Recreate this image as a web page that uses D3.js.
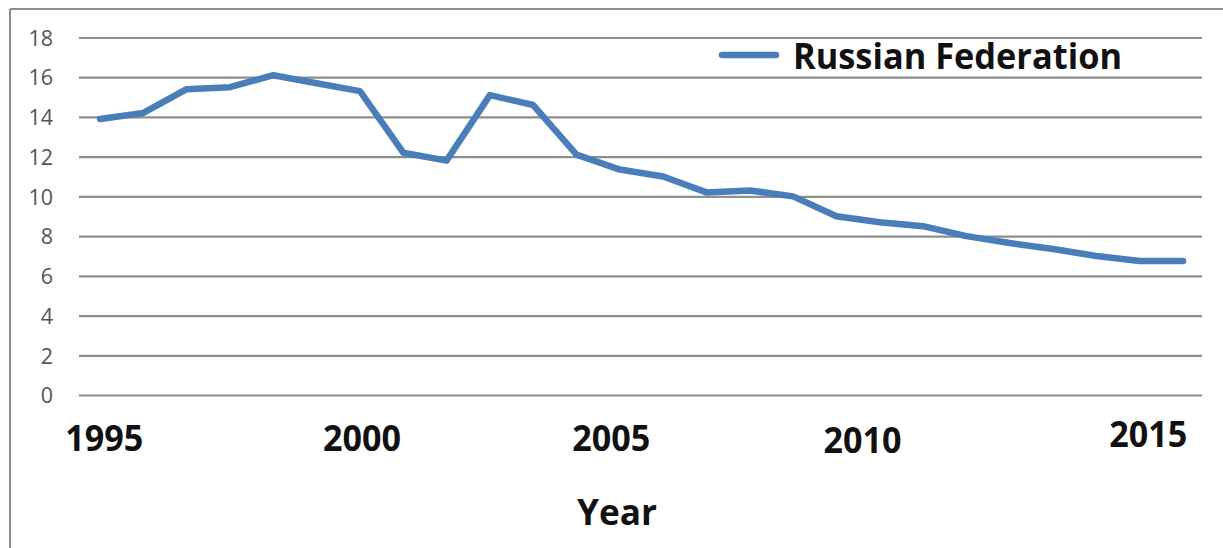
<!DOCTYPE html>
<html>
<head>
<meta charset="utf-8">
<script src="https://cdn.jsdelivr.net/npm/d3@7"></script>
<style>
  html, body { margin: 0; padding: 0; background: #ffffff; }
  svg { display: block; }
</style>
</head>
<body>
<svg id="chart" width="1223" height="548"></svg>
<script>
// ---- data ----
const seriesName = "Russian Federation";
const values = [13.9, 14.2, 15.4, 15.5, 16.1, 15.7, 15.3, 12.2, 11.8, 15.1,
                14.6, 12.1, 11.35, 11.0, 10.2, 10.3, 10.0, 9.0, 8.7, 8.5,
                8.0, 7.65, 7.35, 7.0, 6.75, 6.75];
const yTicks = [0, 2, 4, 6, 8, 10, 12, 14, 16, 18];
const xTickLabels = ["1995", "2000", "2005", "2010", "2015"];
// category position (index along the series) where each label is shown
const xTickAt = [0.1, 6.05, 11.8, 17.6, 24.2];
const xTickDy = [0, 0, 0, 2, -4];
const xAxisTitle = "Year";

// ---- layout ----
const svg = d3.select("#chart");
const W = 1223, H = 548;
const plot = { left: 79, right: 1202, top: 37.5, bottom: 395 };
const lineLeft = 100, lineRight = 1183;
const gridColor = "#8e8e8e";
const lineColor = "#4a7ebb";

const x = d3.scaleLinear().domain([0, values.length - 1]).range([lineLeft, lineRight]);
const y = d3.scaleLinear().domain([0, 18]).range([plot.bottom, plot.top]);

// frame
svg.append("line").attr("x1", 10).attr("x2", W).attr("y1", 9).attr("y2", 9)
  .attr("stroke", gridColor).attr("stroke-width", 2);
svg.append("line").attr("x1", 10).attr("x2", 10).attr("y1", 9).attr("y2", H)
  .attr("stroke", gridColor).attr("stroke-width", 2);

// y axis with gridlines
const yAxis = d3.axisLeft(y).tickValues(yTicks).tickSize(-(plot.right - plot.left)).tickPadding(26)
  .tickFormat(d3.format("d"));
const gy = svg.append("g").attr("transform", `translate(${plot.left},0)`).call(yAxis);
gy.select(".domain").remove();
gy.selectAll(".tick line").attr("stroke", gridColor).attr("stroke-width", 2.2);
gy.selectAll(".tick text")
  .attr("fill", "#555555")
  .style("font-family", "'Open Sans', sans-serif")
  .style("font-size", "21.5px")
  .attr("dy", "0.36em");

// x tick labels
const gx = svg.append("g");
gx.selectAll("text").data(xTickLabels).join("text")
  .attr("x", (d, i) => x(xTickAt[i]))
  .attr("y", (d, i) => 451 + xTickDy[i])
  .attr("text-anchor", "middle")
  .attr("fill", "#111111")
  .style("font-family", "'Open Sans', sans-serif")
  .style("font-weight", "bold")
  .style("font-size", "35px")
  .attr("textLength", 78)
  .attr("lengthAdjust", "spacingAndGlyphs")
  .text(d => d);

// x axis title
svg.append("text")
  .attr("x", 617).attr("y", 525)
  .attr("text-anchor", "middle")
  .attr("fill", "#111111")
  .style("font-family", "'Open Sans', sans-serif")
  .style("font-weight", "bold")
  .style("font-size", "36px")
  .attr("textLength", 80)
  .attr("lengthAdjust", "spacingAndGlyphs")
  .text(xAxisTitle);

// series line
const line = d3.line().x((d, i) => x(i)).y(d => y(d));
svg.append("path").datum(values)
  .attr("d", line)
  .attr("fill", "none")
  .attr("stroke", lineColor)
  .attr("stroke-width", 6.5)
  .attr("stroke-linejoin", "round")
  .attr("stroke-linecap", "round");

// legend
const lg = svg.append("g");
lg.append("line").attr("x1", 722).attr("x2", 776).attr("y1", 55).attr("y2", 55)
  .attr("stroke", lineColor).attr("stroke-width", 6.5).attr("stroke-linecap", "round");
lg.append("text").attr("x", 793).attr("y", 69)
  .attr("fill", "#111111")
  .style("font-family", "'Open Sans', sans-serif")
  .style("font-weight", "bold")
  .style("font-size", "36px")
  .attr("textLength", 329)
  .attr("lengthAdjust", "spacingAndGlyphs")
  .text(seriesName);
</script>
</body>
</html>
